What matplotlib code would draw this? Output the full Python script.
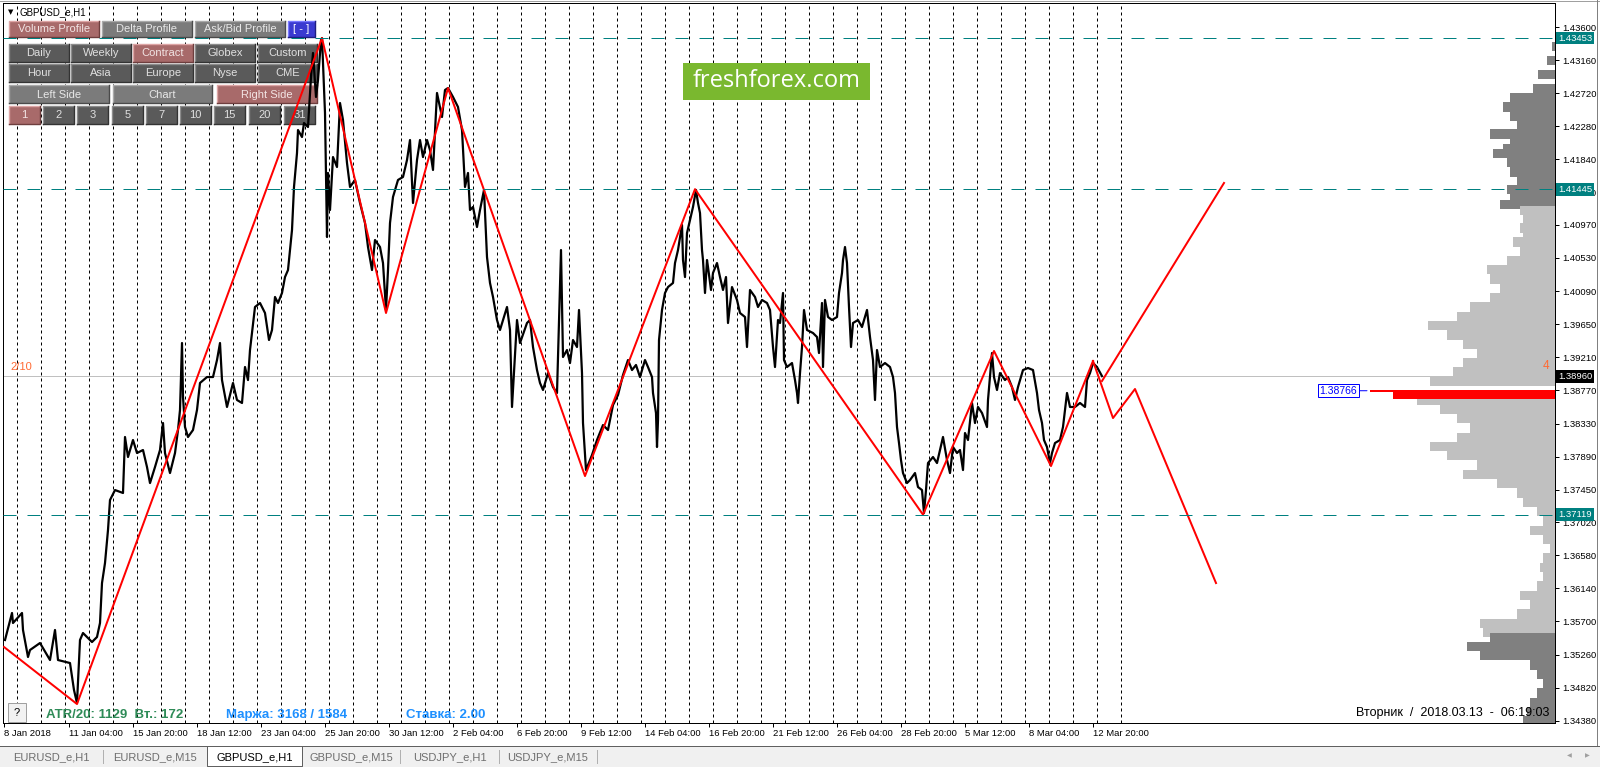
import numpy as np
import matplotlib.pyplot as plt
from matplotlib.patches import Rectangle

plt.rcParams['font.family'] = ['Liberation Sans', 'DejaVu Sans']
plt.rcParams['lines.scale_dashes'] = False

W, H = 1600, 767
PX = 0.72  # one pixel in points at dpi 100

# ---- GBPUSD H1 path (bar number, price) ----
bars = [5, 12, 13, 22, 23, 28, 30, 40, 50, 55, 58, 70, 74, 77, 80, 83, 92, 97, 100, 102,
        105, 108, 110, 115, 123, 125, 128, 133, 137, 143, 147, 150, 155, 160, 163, 165, 170, 175, 178, 180,
        182, 183, 185, 188, 193, 197, 200, 207, 213, 217, 220, 222, 227, 233, 237, 242, 245, 248, 250, 255,
        260, 265, 269, 272, 275, 278, 282, 285, 288, 292, 294, 297, 298, 302, 304, 308, 311, 313, 316, 318,
        321, 322, 323, 325, 327, 328, 330, 333, 337, 340, 343, 347, 350, 355, 360, 365, 368, 372, 375, 380,
        383, 386, 388, 390, 393, 398, 403, 407, 410, 413, 417, 420, 423, 427, 430, 433, 437, 442, 445, 448,
        453, 458, 462, 465, 468, 470, 473, 477, 480, 484, 487, 490, 493, 497, 500, 507, 510, 512, 517, 520,
        527, 530, 533, 537, 540, 543, 548, 553, 557, 561, 563, 567, 570, 573, 577, 579, 582, 583, 586, 592,
        597, 603, 608, 613, 618, 623, 628, 632, 636, 640, 645, 648, 652, 653, 656, 657, 658, 659, 662, 665,
        668, 673, 675, 678, 682, 683, 685, 687, 690, 693, 696, 698, 700, 702, 703, 705, 707, 708, 711, 713,
        717, 720, 723, 726, 728, 732, 737, 740, 745, 747, 750, 755, 758, 762, 767, 770, 773, 775, 778, 780,
        783, 784, 787, 792, 795, 797, 798, 800, 802, 804, 807, 813, 817, 819, 822, 823, 825, 828, 832, 837,
        839, 842, 843, 845, 847, 849, 851, 853, 858, 862, 867, 870, 873, 875, 877, 880, 885, 890, 893, 895,
        897, 899, 901, 903, 907, 910, 915, 918, 922, 924, 926, 928, 933, 937, 940, 943, 947, 950, 953, 957,
        960, 963, 965, 968, 972, 975, 978, 982, 987, 988, 992, 994, 997, 1000, 1005, 1008, 1012, 1015, 1018, 1023,
        1028, 1033, 1037, 1039, 1042, 1044, 1047, 1050, 1052, 1055, 1060, 1063, 1067, 1070, 1075, 1080, 1085, 1087, 1090, 1093,
        1097, 1102]
prices = [1.35453, 1.35812, 1.35679, 1.35812, 1.35586, 1.35227, 1.35320, 1.35413, 1.35187, 1.35586,
          1.35187, 1.35147, 1.34788, 1.34615, 1.35453, 1.35546, 1.35426, 1.35493, 1.35679, 1.36210,
          1.36476, 1.36915, 1.37313, 1.37446, 1.37407, 1.38151, 1.37885, 1.38111, 1.37938, 1.37978,
          1.37752, 1.37539, 1.37752, 1.37978, 1.38337, 1.37938, 1.37672, 1.37938, 1.38244, 1.38510,
          1.39400, 1.38682, 1.38284, 1.38151, 1.38244, 1.38510, 1.38869, 1.38948, 1.38948, 1.39174,
          1.39400, 1.38908, 1.38550, 1.38869, 1.38643, 1.38603, 1.39081, 1.38908, 1.39307, 1.39879,
          1.39932, 1.39799, 1.39440, 1.39573, 1.40012, 1.39932, 1.40065, 1.40277, 1.40370, 1.40902,
          1.41474, 1.41925, 1.42231, 1.42138, 1.42324, 1.42271, 1.42936, 1.43255, 1.42670, 1.42896,
          1.43427, 1.43453, 1.43122, 1.42457, 1.40809, 1.41660, 1.41168, 1.41872, 1.41739, 1.42590,
          1.42364, 1.41793, 1.41474, 1.41567, 1.41261, 1.40995, 1.40676, 1.40370, 1.40769, 1.40676,
          1.40463, 1.39839, 1.40370, 1.40995, 1.41341, 1.41567, 1.41607, 1.41832, 1.42098, 1.41261,
          1.41832, 1.42098, 1.41872, 1.42098, 1.41965, 1.41700, 1.42723, 1.42404, 1.42763, 1.42789,
          1.42670, 1.42537, 1.42231, 1.41474, 1.41660, 1.41168, 1.41208, 1.40942, 1.41168, 1.41434,
          1.40543, 1.40198, 1.40012, 1.39706, 1.39573, 1.39879, 1.39573, 1.38550, 1.39706, 1.39400,
          1.39666, 1.39706, 1.39347, 1.39041, 1.38869, 1.38776, 1.39001, 1.38815, 1.38736, 1.40636,
          1.39214, 1.39307, 1.39134, 1.39440, 1.39347, 1.39839, 1.39001, 1.38337, 1.37712, 1.37912,
          1.38111, 1.38310, 1.38244, 1.38576, 1.38709, 1.38975, 1.39174, 1.39041, 1.39108, 1.38948,
          1.39174, 1.39081, 1.38948, 1.38736, 1.38470, 1.38018, 1.38377, 1.39440, 1.39839, 1.40065,
          1.40144, 1.40198, 1.40463, 1.40636, 1.40969, 1.40503, 1.40277, 1.40862, 1.41035, 1.41208,
          1.41434, 1.41261, 1.41128, 1.40636, 1.40503, 1.40065, 1.40503, 1.40410, 1.40105, 1.40331,
          1.40463, 1.40277, 1.40105, 1.40277, 1.39666, 1.40144, 1.39972, 1.39799, 1.39746, 1.39347,
          1.40105, 1.40012, 1.39879, 1.39972, 1.39932, 1.39839, 1.39347, 1.39081, 1.39706, 1.39666,
          1.40065, 1.39174, 1.39081, 1.39134, 1.38908, 1.38736, 1.38603, 1.39001, 1.39347, 1.39839,
          1.39573, 1.39533, 1.39480, 1.39267, 1.39932, 1.39081, 1.39972, 1.39746, 1.39706, 1.39746,
          1.40065, 1.40331, 1.40503, 1.40676, 1.40463, 1.39879, 1.39347, 1.39666, 1.39706, 1.39613,
          1.39839, 1.39480, 1.39174, 1.38643, 1.39307, 1.39081, 1.39134, 1.39081, 1.38948, 1.38736,
          1.38284, 1.38071, 1.37845, 1.37672, 1.37539, 1.37579, 1.37672, 1.37486, 1.37446, 1.37141,
          1.37446, 1.37805, 1.37885, 1.37805, 1.37978, 1.38151, 1.37845, 1.37672, 1.38018, 1.37938,
          1.37978, 1.37712, 1.38204, 1.38111, 1.38603, 1.38337, 1.38550, 1.38470, 1.38284, 1.38643,
          1.39267, 1.38948, 1.38776, 1.39001, 1.38908, 1.38948, 1.38815, 1.38643, 1.38815, 1.39041,
          1.39068, 1.39041, 1.38736, 1.38510, 1.38337, 1.38111, 1.38018, 1.37805, 1.37938, 1.38071,
          1.38111, 1.38284, 1.38736, 1.38550, 1.38550, 1.38603, 1.38550, 1.38908, 1.39001, 1.39134,
          1.39081, 1.38960]

# ZigZag swings and the two projected branches
zz_bars = [4, 77, 322, 386, 448, 585, 695, 923, 994, 1051, 1093]
zz_prices = [1.35360, 1.34602, 1.43453, 1.39799, 1.42789, 1.37632, 1.41445, 1.37119, 1.39294, 1.37765, 1.39161]
proj_a_bars = [1093, 1113, 1135, 1216]
proj_a_prices = [1.39161, 1.38403, 1.38789, 1.36210]
proj_b_bars = [1102, 1224]
proj_b_prices = [1.38895, 1.41527]

levels = [1.43453, 1.41445, 1.37119]
bid = 1.38960
poc = 1.38766
va_high, va_low = 1.4117, 1.3552

# volume profile (price level, volume)
prof_prices = [1.43446, 1.43341, 1.43155, 1.42970, 1.42784, 1.42660, 1.42537, 1.42413, 1.42290, 1.42178,
               1.42105, 1.41981, 1.41919, 1.41795, 1.41671, 1.41548, 1.41443, 1.41363, 1.41238, 1.41165,
               1.41053, 1.40930, 1.40806, 1.40744, 1.40620, 1.40497, 1.40373, 1.40249, 1.40126, 1.40002,
               1.39878, 1.39755, 1.39631, 1.39508, 1.39384, 1.39260, 1.39137, 1.39013, 1.38890, 1.38642,
               1.38519, 1.38395, 1.38272, 1.38148, 1.38024, 1.37901, 1.37777, 1.37654, 1.37530, 1.37406,
               1.37283, 1.37159, 1.37035, 1.36912, 1.36788, 1.36665, 1.36541, 1.36417, 1.36294, 1.36170,
               1.36047, 1.35922, 1.35798, 1.35675, 1.35551, 1.35490, 1.35366, 1.35243, 1.35119, 1.34995,
               1.34872, 1.34748, 1.34625, 1.34501, 1.34378]
prof_volume = [0, 3, 8, 17, 22, 45, 52, 45, 38, 65,
               45, 52, 62, 48, 45, 38, 48, 45, 55, 35,
               32, 35, 32, 42, 35, 48, 68, 65, 55, 65,
               85, 98, 127, 108, 92, 78, 92, 102, 125, 138,
               115, 98, 85, 98, 125, 108, 78, 92, 58, 38,
               32, 18, 12, 25, 12, 5, 12, 15, 12, 18,
               35, 25, 38, 75, 72, 65, 88, 75, 25, 18,
               12, 18, 25, 28, 32]
poc_volume = 162

price_ticks = [1.43600, 1.43160, 1.42720, 1.42280, 1.41840, 1.41400, 1.40970, 1.40530, 1.40090, 1.39650,
               1.39210, 1.38770, 1.38330, 1.37890, 1.37450, 1.37020, 1.36580, 1.36140, 1.35700, 1.35260,
               1.34820, 1.34380]
date_labels = ['8 Jan 2018', '11 Jan 04:00', '15 Jan 20:00', '18 Jan 12:00', '23 Jan 04:00', '25 Jan 20:00',
               '30 Jan 12:00', '2 Feb 04:00', '6 Feb 20:00', '9 Feb 12:00', '14 Feb 04:00', '16 Feb 20:00',
               '21 Feb 12:00', '26 Feb 04:00', '28 Feb 20:00', '5 Mar 12:00', '8 Mar 04:00', '12 Mar 20:00']
date_bars = [4, 69, 133, 197, 261, 325, 389, 453, 517, 581, 645, 709, 773, 837, 901, 965, 1029, 1093]

atr, vt = 1129, 172
margin = (3168, 1584)
rate = 2.00
clock = 'Вторник  /  2018.03.13  -  06:19:03'

tabs = ['EURUSD_e,H1', 'EURUSD_e,M15', 'GBPUSD_e,H1', 'GBPUSD_e,M15', 'USDJPY_e,H1', 'USDJPY_e,M15']
active_tab = 'GBPUSD_e,H1'

# ---------------- figure ----------------
fig = plt.figure(figsize=(W / 100, H / 100), dpi=100, facecolor='white')
ui = fig.add_axes([0, 0, 1, 1], zorder=0)
ui.set_xlim(0, W)
ui.set_ylim(H, 0)
ui.axis('off')

ax = fig.add_axes([3 / W, 44 / H, 1552 / W, 720 / H], zorder=1)
ax.set_xlim(3, 1555)
ax.set_ylim(1.34350, 1.43919)
ax.set_facecolor('white')

prof_ax = ax.twiny()
prof_ax.set_xlim(1552, 0)
prof_ax.xaxis.set_visible(False)
for sp in prof_ax.spines.values():
    sp.set_visible(False)

for sp in ax.spines.values():
    sp.set_linewidth(PX)
    sp.set_color('black')

# day separators
for xb in np.arange(17.3, 1123, 24):
    ax.axvline(xb, color='black', lw=PX, ls=(0, (3 * PX, 3 * PX)), zorder=1)

ax.axhline(bid, color='#C0C0C0', lw=PX, zorder=1.1)

# buttons panel
styles = {
    'rose': ('#A86A6A', '#DDA5A5', '#6E3E3E', '#F2E4E4'),
    'mid': ('#7B7B7B', '#A9A9A9', '#4A4A4A', '#E8E8E8'),
    'dark': ('#5A5A5A', '#8C8C8C', '#333333', '#E0E0E0'),
    'blue': ('#3A3AD0', '#7878FF', '#1E1E80', '#FFFFFF'),
}


def button(label, x0, x1, y0, y1, style):
    face, hi, lo, tc = styles[style]
    ax.add_patch(Rectangle((x0, y0), x1 - x0, y1 - y0, transform=ui.transData,
                           facecolor=face, edgecolor='none', zorder=2))
    ax.plot([x0, x0, x1], [y1, y0, y0], color=hi, lw=1.4 * PX, transform=ui.transData, zorder=2.1)
    ax.plot([x0, x1, x1], [y1, y1, y0], color=lo, lw=1.4 * PX, transform=ui.transData, zorder=2.1)
    ax.text((x0 + x1) / 2, (y0 + y1) / 2 + 0.5, label, transform=ui.transData, ha='center',
            va='center', fontsize=8, color=tc, zorder=2.2)


button('Volume Profile', 9, 99, 21, 37, 'rose')
button('Delta Profile', 102, 192, 21, 37, 'mid')
button('Ask/Bid Profile', 195, 285, 21, 37, 'mid')
button('[ - ]', 288, 315, 21, 37, 'blue')
cols5 = [(9, 69), (71, 131), (133, 193), (195, 255), (258, 317)]
for (x0, x1), lab in zip(cols5, ['Daily', 'Weekly', 'Contract', 'Globex', 'Custom']):
    button(lab, x0, x1, 44, 62, 'rose' if lab == 'Contract' else 'dark')
for (x0, x1), lab in zip(cols5, ['Hour', 'Asia', 'Europe', 'Nyse', 'CME']):
    button(lab, x0, x1, 64, 82, 'dark')
button('Left Side', 9, 109, 85, 103, 'mid')
button('Chart', 113, 212, 85, 103, 'mid')
button('Right Side', 217, 317, 85, 103, 'rose')
cols9 = [(9, 40), (43, 74), (77, 108), (112, 143), (146, 177), (180, 211), (214, 245), (249, 280), (284, 315)]
for (x0, x1), lab in zip(cols9, ['1', '2', '3', '5', '7', '10', '15', '20', '31']):
    button(lab, x0, x1, 106, 124, 'rose' if lab == '1' else 'dark')

ax.text(8, 12, '▼', transform=ui.transData, fontsize=5, family='DejaVu Sans', va='center', zorder=4)
ax.text(20, 12, 'GBPUSD_e,H1', transform=ui.transData, fontsize=7, va='center', zorder=4)

# logo
ax.add_patch(Rectangle((683, 63), 187, 37, transform=ui.transData, facecolor='#7AB82F',
                       edgecolor='none', zorder=2))
ax.text(776.5, 81, 'freshforex.com', transform=ui.transData, ha='center', va='center',
        fontsize=17, color='white', family='Open Sans', zorder=2.1)

# price and zigzag
ax.plot(bars, prices, color='black', lw=1.6, zorder=3)
ax.plot(zz_bars, zz_prices, color='#FF0000', lw=2 * PX, zorder=3.5)
ax.plot(proj_a_bars, proj_a_prices, color='#FF0000', lw=2 * PX, zorder=3.5)
ax.plot(proj_b_bars, proj_b_prices, color='#FF0000', lw=2 * PX, zorder=3.5)

ax.text(10, 367, '2/10', transform=ui.transData, fontsize=8, color='#FF6A33', va='center', zorder=4)

# volume profile
colors = ['#C0C0C0' if va_low < p <= va_high else '#808080' for p in prof_prices]
prof_ax.barh(prof_prices, prof_volume, height=0.00124, left=0, color=colors, lw=0, zorder=2)
prof_ax.barh(poc - 0.0005, poc_volume, height=0.0012, color='#FF0000', lw=0, zorder=3)
prof_ax.barh(poc, poc_volume + 23, height=0.00022, color='#FF0000', lw=0, zorder=3)
prof_ax.annotate(f'{poc:.5f}', xy=(188, poc), xytext=(198, poc), ha='right', va='center',
                 color='#0000FF', fontsize=7.5,
                 bbox=dict(boxstyle='square,pad=0.15', fc='white', ec='#0000FF', lw=PX),
                 arrowprops=dict(arrowstyle='-', color='#0000FF', lw=PX, shrinkA=0, shrinkB=0),
                 zorder=4)
for lv in levels:
    prof_ax.axhline(lv, color='#008080', lw=PX, ls=(0, (13 * PX, 11 * PX)), zorder=5)
prof_ax.text(1546, 366, '4', transform=ui.transData, fontsize=8.5, color='#FF6A33',
             ha='center', va='center', zorder=6)
prof_ax.text(1549, 713, clock, transform=ui.transData, fontsize=9, ha='right', va='center',
             color='black', zorder=6)

# axes ticks
ax.yaxis.set_ticks_position('right')
ax.set_yticks(price_ticks)
ax.set_yticklabels([f'{p:.5f}' for p in price_ticks])
ax.tick_params(axis='y', direction='out', length=4 * PX, width=PX, pad=3 * PX, labelsize=6.8)
ax.set_xticks(date_bars)
ax.set_xticklabels(date_labels, ha='left')
ax.tick_params(axis='x', direction='out', length=4 * PX, width=PX, pad=1.5, labelsize=6.8)

for lv in levels:
    ax.text(1 + 3 / 1552, lv, f'{lv:.5f}', transform=ax.get_yaxis_transform(), ha='left', va='center',
            fontsize=6.8, color='white', zorder=6, clip_on=False,
            bbox=dict(boxstyle='square,pad=0.2', fc='#008080', ec='none'))
ax.text(1 + 3 / 1552, bid, f'{bid:.5f}', transform=ax.get_yaxis_transform(), ha='left', va='center',
        fontsize=6.8, color='white', zorder=6, clip_on=False,
        bbox=dict(boxstyle='square,pad=0.2', fc='black', ec='none'))

# bottom info line
ax.add_patch(Rectangle((8, 703), 18, 19, transform=ui.transData, facecolor='#F2F2F2',
                       edgecolor='#A0A0A0', lw=PX, zorder=4))
ax.text(17, 712.5, '?', transform=ui.transData, fontsize=8, ha='center', va='center', zorder=4.1)
ax.text(46, 715, f'ATR/20: {atr}  Вт.: {vt}', transform=ui.transData, fontsize=9.5,
        weight='bold', color='#2E8B57', va='center', zorder=4)
ax.text(226, 715, f'Маржа: {margin[0]} / {margin[1]}', transform=ui.transData, fontsize=9.5,
        weight='bold', color='#1E90FF', va='center', zorder=4)
ax.text(406, 715, f'Ставка: {rate:.2f}', transform=ui.transData, fontsize=9.5,
        weight='bold', color='#1E90FF', va='center', zorder=4)

# window frame and tab bar
ui.plot([0, W], [0.5, 0.5], color='#A0A0A0', lw=PX)
ui.plot([1597, 1597], [0, 746], color='#808080', lw=PX)
ui.add_patch(Rectangle((0, 746), W, 21, facecolor='#F0F0F0', edgecolor='none'))
ui.plot([0, W], [746, 746], color='#606060', lw=PX)
tab_edges = [0, 103, 207, 302, 400, 499, 597]
for i, name in enumerate(tabs):
    x0, x1 = tab_edges[i], tab_edges[i + 1]
    if name == active_tab:
        ui.add_patch(Rectangle((x0, 745.5), x1 - x0, 20, facecolor='white', edgecolor='none'))
        ui.plot([x0, x0, x1, x1], [746, 766, 766, 746], color='#606060', lw=PX)
        ui.text((x0 + x1) / 2, 757, name, fontsize=8, ha='center', va='center', color='black')
    else:
        ui.text((x0 + x1) / 2, 757, name, fontsize=8, ha='center', va='center', color='#6E6E6E')
for xs in [103, 400, 499, 597]:
    ui.plot([xs, xs], [750, 763], color='#B0B0B0', lw=PX)
ui.text(1569, 756, '◀', fontsize=4.5, family='DejaVu Sans', color='#A0A0A0', ha='center', va='center')
ui.text(1587, 756, '▶', fontsize=4.5, family='DejaVu Sans', color='#A0A0A0', ha='center', va='center')

fig.savefig('out.png', dpi=100, facecolor='white')
